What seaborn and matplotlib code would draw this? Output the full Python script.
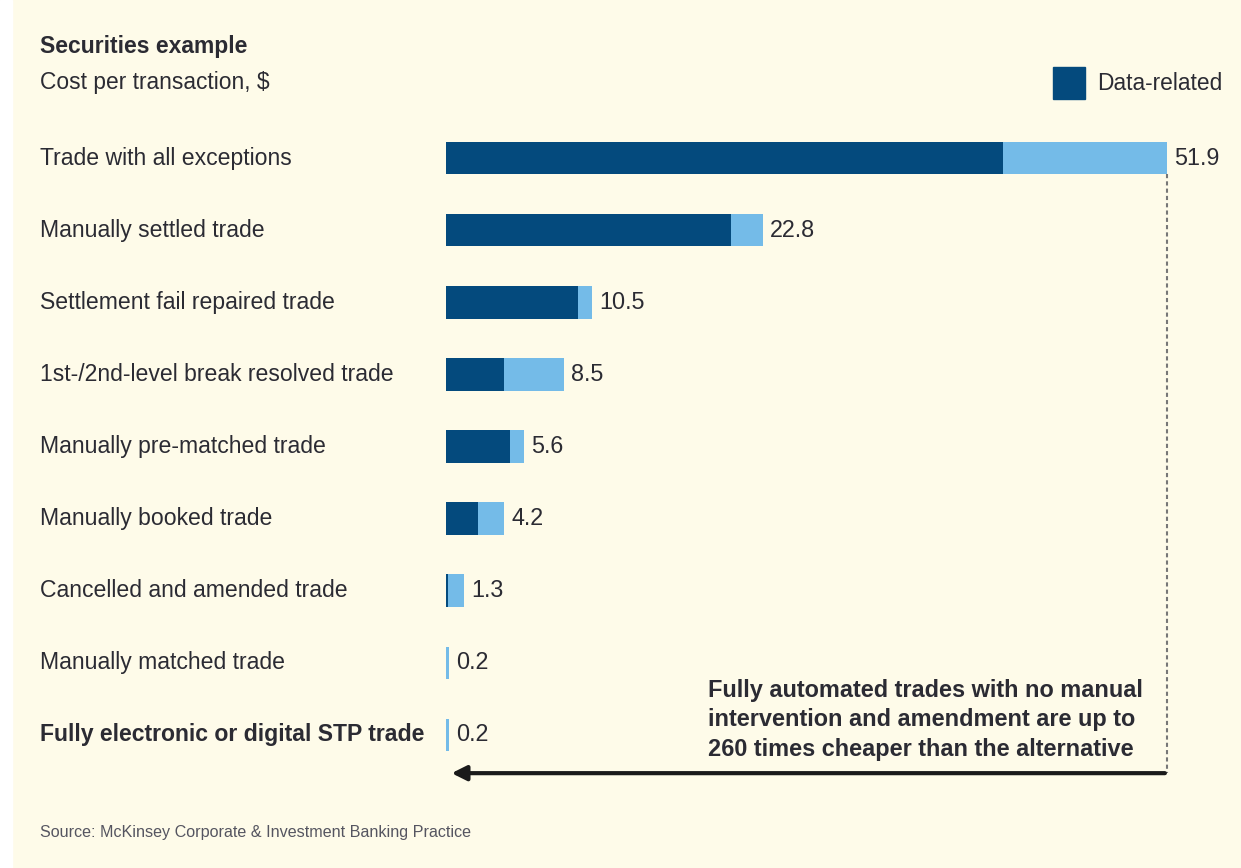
import matplotlib
matplotlib.use("Agg")
import matplotlib.pyplot as plt
import seaborn as sns
import pandas as pd

# valores (custo por transação, $)
categorias = [
    "Trade with all exceptions",
    "Manually settled trade",
    "Settlement fail repaired trade",
    "1st-/2nd-level break resolved trade",
    "Manually pre-matched trade",
    "Manually booked trade",
    "Cancelled and amended trade",
    "Manually matched trade",
    "Fully electronic or digital STP trade",
]
custo_total = [51.9, 22.8, 10.5, 8.5, 5.6, 4.2, 1.3, 0.2, 0.2]
custo_dados = [40.1, 20.5, 9.5, 4.2, 4.6, 2.3, 0.15, 0.0, 0.0]
rotulos = ["51.9", "22.8", "10.5", "8.5", "5.6", "4.2", "1.3", "0.2", "0.2"]

FUNDO = "#FEFBE9"
AZUL_ESCURO = "#044A7D"
AZUL_CLARO = "#74BBE8"
TEXTO = "#2B2B33"

sns.set_theme(style="white")
plt.rcParams["font.family"] = ["Liberation Sans", "DejaVu Sans"]

W, H = 1241, 868
fig = plt.figure(figsize=(W / 100, H / 100), dpi=100, facecolor=FUNDO)


def px(x, y):
    return x / W, 1 - y / H


ax = fig.add_axes([446 / W, 1 - 771 / H, (1167 - 446) / W, (771 - 122) / H])
ax.set_facecolor(FUNDO)

df = pd.DataFrame({"categoria": categorias, "total": custo_total, "dados": custo_dados})

sns.barplot(data=df, x="total", y="categoria", color=AZUL_CLARO, width=0.45,
            saturation=1, linewidth=0, ax=ax)
sns.barplot(data=df, x="dados", y="categoria", color=AZUL_ESCURO, width=0.45,
            saturation=1, linewidth=0, ax=ax)

ax.set_xlim(0, 51.9)
ax.set_ylim(8.5, -0.5)
ax.set_xlabel("")
ax.set_ylabel("")
ax.set_xticks([])
ax.set_yticks([])
sns.despine(ax=ax, left=True, bottom=True)

# rótulos de valor no fim das barras
for i, (v, r) in enumerate(zip(custo_total, rotulos)):
    ax.text(v + 0.5, i, r, va="center", ha="left", fontsize=16.8, color=TEXTO, clip_on=False)

# nomes das categorias à esquerda
for i, c in enumerate(categorias):
    peso = "bold" if i == len(categorias) - 1 else "normal"
    ax.annotate(c, xy=(0, i), xycoords="data", xytext=(40 / W, i),
                textcoords=("figure fraction", "data"),
                ha="left", va="center", fontsize=16.6, color=TEXTO, fontweight=peso)

# linha tracejada e seta
ax.plot([51.9, 51.9], [0.22, 8.53], color="#777777", lw=1.5, ls=(0, (2, 1.5)), clip_on=False)
ax.annotate("", xy=(0.2, 8.53), xytext=(51.95, 8.53), xycoords="data",
            arrowprops=dict(arrowstyle="-|>", color="#1A1A1A", lw=3, mutation_scale=22),
            annotation_clip=False)

ax.text(18.86, 7.79,
        "Fully automated trades with no manual\nintervention and amendment are up to\n260 times cheaper than the alternative",
        ha="left", va="center", fontsize=16.9, fontweight="bold", color=TEXTO, linespacing=1.37)

# títulos
fig.text(*px(40, 47), "Securities example", fontsize=16.5, fontweight="bold", color=TEXTO, va="center")
fig.text(*px(40, 82), "Cost per transaction, $", fontsize=16.4, color=TEXTO, va="center")
fig.text(*px(40, 833), "Source: McKinsey Corporate & Investment Banking Practice", fontsize=11.6,
         color="#555560", va="center")

# legenda
fig.patches.append(plt.Rectangle(px(1053, 99), 32 / W, 32 / H, transform=fig.transFigure,
                                 color=AZUL_ESCURO))
fig.text(*px(1097, 84), "Data-related", fontsize=16.4, color=TEXTO, va="center")

# margem branca à esquerda
fig.patches.append(plt.Rectangle((0, 0), 12 / W, 1, transform=fig.transFigure, color="white"))

fig.savefig("out.png", dpi=100, facecolor=FUNDO)
